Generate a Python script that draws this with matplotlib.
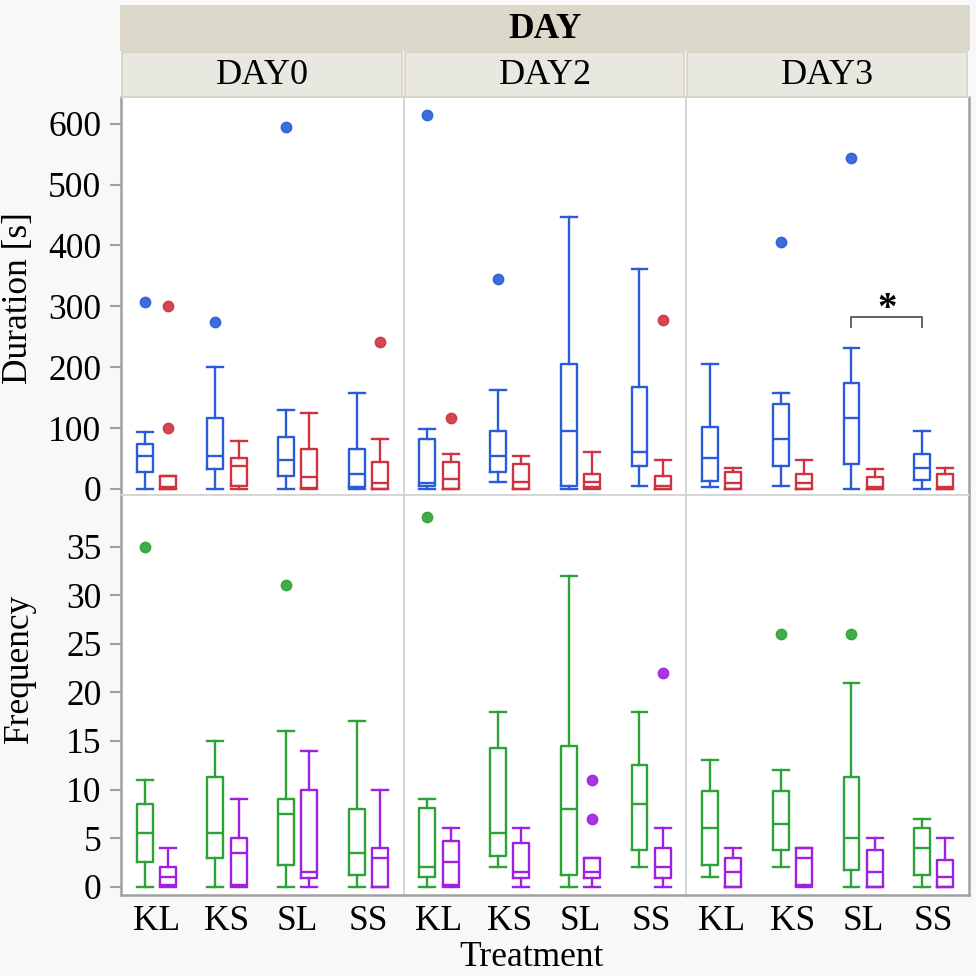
import numpy as np
import matplotlib.pyplot as plt
from matplotlib.patches import Rectangle

plt.rcParams['font.family'] = ['Liberation Serif', 'DejaVu Serif']

treatments = ['KL', 'KS', 'SL', 'SS']
days = ['DAY0', 'DAY2', 'DAY3']

# each row: [whislo, q1, median, q3, whishi] for KL, KS, SL, SS
dur_a_day0 = [[0, 28.5, 54, 73, 93], [0, 32, 54, 117, 200], [0, 22, 48, 85, 129], [0, 2.7, 25, 66, 158]]
dur_a_day2 = [[0, 5.5, 9.3, 82, 98], [12, 28.5, 54, 95, 162], [0, 5.5, 95, 206, 447], [5.5, 38, 60, 168, 362]]
dur_a_day3 = [[2.7, 12.6, 50, 101, 206], [5.5, 38, 82, 140, 158], [0, 41, 117, 174, 232], [0, 15, 34.5, 57, 95]]
dur_b_day0 = [[0, 0, 2.7, 22, 22], [0, 4.9, 38, 50, 79], [0, 1, 19, 66, 124], [0, 0, 9.3, 45, 82]]
dur_b_day2 = [[0, 0, 16, 44, 57], [0, 0, 12, 41, 54], [0, 3.8, 12, 25, 60], [0, 0, 5.5, 22, 48]]
dur_b_day3 = [[0, 0, 9.3, 28.5, 34.5], [0, 0, 9.3, 25, 48], [0, 0, 3.8, 19, 32], [0, 0, 2.7, 25, 34.5]]

dur_a_out = {'DAY0': [[307], [275], [594], []], 'DAY2': [[615], [345], [], []], 'DAY3': [[], [406], [544], []]}
dur_b_out = {'DAY0': [[300, 100], [], [], [241]], 'DAY2': [[117], [], [], [277]], 'DAY3': [[], [], [], []]}

freq_a_day0 = [[0, 2.5, 5.5, 8.5, 11], [0, 3, 5.5, 11.3, 15], [0, 2.2, 7.5, 9, 16], [0, 1.2, 3.5, 8, 17]]
freq_a_day2 = [[0, 1, 2, 8.1, 9], [2, 3.2, 5.5, 14.3, 18], [0, 1.2, 8, 14.5, 32], [2, 3.75, 8.5, 12.5, 18]]
freq_a_day3 = [[1, 2.2, 6, 9.8, 13], [2, 3.75, 6.5, 9.8, 12], [0, 1.75, 5, 11.3, 21], [0, 1.2, 4, 6, 7]]
freq_b_day0 = [[0, 0.15, 1, 2, 4], [0, 0.15, 3.5, 5, 9], [0, 0.9, 1.5, 10, 14], [0, 0, 3, 4, 10]]
freq_b_day2 = [[0, 0.15, 2.5, 4.7, 6], [0, 0.9, 1.5, 4.5, 6], [0, 0.9, 1.5, 3, 3], [0, 0.9, 2, 4, 6]]
freq_b_day3 = [[0, 0, 1.5, 3, 4], [0, 0.15, 3, 4, 4], [0, 0, 1.5, 3.75, 5], [0, 0, 1, 2.75, 5]]

freq_a_out = {'DAY0': [[35], [], [31], []], 'DAY2': [[38], [], [], []], 'DAY3': [[], [26], [26], []]}
freq_b_out = {'DAY0': [[], [], [], []], 'DAY2': [[], [], [11, 7], [22]], 'DAY3': [[], [], [], []]}

dur_a = {'DAY0': dur_a_day0, 'DAY2': dur_a_day2, 'DAY3': dur_a_day3}
dur_b = {'DAY0': dur_b_day0, 'DAY2': dur_b_day2, 'DAY3': dur_b_day3}
freq_a = {'DAY0': freq_a_day0, 'DAY2': freq_a_day2, 'DAY3': freq_a_day3}
freq_b = {'DAY0': freq_b_day0, 'DAY2': freq_b_day2, 'DAY3': freq_b_day3}

blue, red, green, purple = '#2a5cd8', '#d0323f', '#2ca336', '#a020e0'
FS = 25.5


def make_stats(rows, outs):
    return [dict(whislo=r[0], q1=r[1], med=r[2], q3=r[3], whishi=r[4], fliers=o)
            for r, o in zip(rows, outs)]


def draw(ax, rows, outs, col, shift):
    pr = dict(color=col, lw=1.7)
    ax.bxp(make_stats(rows, outs), positions=np.arange(4) + shift, widths=0.226,
           capwidths=0.226, boxprops=pr, whiskerprops=pr, capprops=pr, medianprops=pr,
           flierprops=dict(marker='o', markerfacecolor=col, markeredgecolor=col,
                           markersize=7.5, alpha=0.9),
           manage_ticks=False)


W = 976
fig = plt.figure(figsize=(9.76, 9.76), dpi=100, facecolor='#f8f8f8')

x0, pw = 121, 282.67
rows_px = [(97, 495), (495, 895)]
frame = '#a0a0a0'
light = '#d4d4d4'

for r, (top, bot) in enumerate(rows_px):
    for c, day in enumerate(days):
        ax = fig.add_axes([(x0 + c * pw) / W, 1 - bot / W, pw / W, (bot - top) / W])
        ax.set_facecolor('white')
        if r == 0:
            draw(ax, dur_a[day], dur_a_out[day], blue, -0.163)
            draw(ax, dur_b[day], dur_b_out[day], red, 0.163)
            ax.set_ylim(-10, 644)
            ax.set_yticks(range(0, 601, 100))
        else:
            draw(ax, freq_a[day], freq_a_out[day], green, -0.163)
            draw(ax, freq_b[day], freq_b_out[day], purple, 0.163)
            ax.set_ylim(-0.85, 40.3)
            ax.set_yticks(range(0, 36, 5))
        ax.set_xlim(-0.5, 3.5)
        ax.set_xticks(range(4))
        for s in ax.spines.values():
            s.set_color(light)
            s.set_linewidth(1.3)
        if c == 0:
            ax.spines['left'].set_color(frame)
            ax.spines['left'].set_linewidth(1.8)
            ax.tick_params(axis='y', length=8, width=1.5, color=frame, pad=6, labelsize=FS)
        else:
            ax.tick_params(axis='y', left=False, labelleft=False)
        if c == 2:
            ax.spines['right'].set_color(frame)
            ax.spines['right'].set_linewidth(1.8)
        if r == 1:
            ax.spines['bottom'].set_color(frame)
            ax.spines['bottom'].set_linewidth(1.8)
            ax.set_xticklabels(treatments)
            ax.tick_params(axis='x', length=0, pad=7, labelsize=FS)
        else:
            ax.tick_params(axis='x', bottom=False, labelbottom=False)
        if r == 0 and day == 'DAY3':
            # significance bracket SL vs SS
            xa, xb = 2 - 0.163, 3 - 0.163
            ax.plot([xa, xa, xb, xb], [266, 283, 283, 266], color='#555555', lw=1.3)
            ax.text((xa + xb) / 2, 279, '*', ha='center', va='baseline', fontsize=28,
                    fontweight='bold')

# strip headers
fig.patches.append(Rectangle((120 / W, 1 - 51 / W), 850 / W, 46 / W, transform=fig.transFigure,
                             facecolor='#dcd9ca', edgecolor='none'))
fig.text(545 / W, 1 - 29 / W, 'DAY', ha='center', va='center', fontsize=FS, fontweight='bold')
for c, day in enumerate(days):
    left = x0 + c * pw
    fig.patches.append(Rectangle(((left + 1) / W, 1 - 97 / W), (pw - 3) / W, 45 / W,
                                 transform=fig.transFigure, facecolor='#e9e8e0',
                                 edgecolor='#d8d5c6', linewidth=1.3))
    fig.text((left + pw / 2) / W, 1 - 75 / W, day, ha='center', va='center', fontsize=26)

fig.text(19 / W, 1 - 298 / W, 'Duration [s]', rotation=90, ha='center', va='center', fontsize=FS)
fig.text(19 / W, 1 - 668 / W, 'Frequency', rotation=90, ha='center', va='center', fontsize=FS)
fig.text(531 / W, 1 - 958 / W, 'Treatment', ha='center', va='center', fontsize=FS)

fig.savefig('out.png', dpi=100, facecolor=fig.get_facecolor())
